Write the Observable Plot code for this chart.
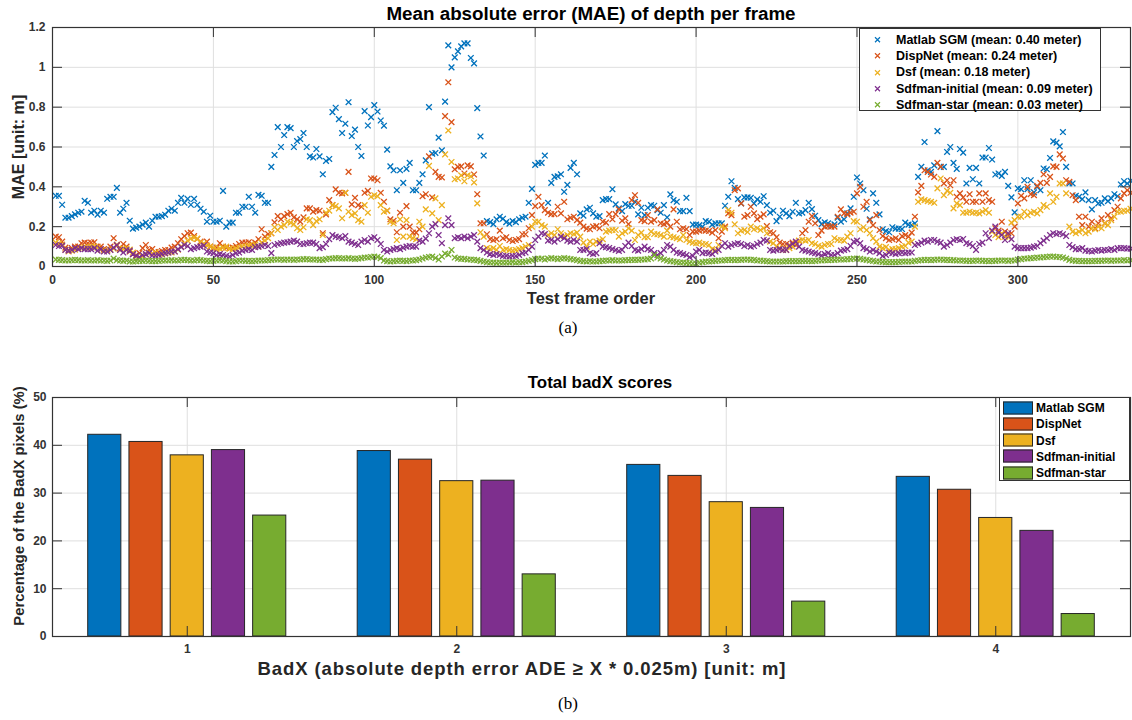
<!DOCTYPE html>
<html><head><meta charset="utf-8">
<script src="https://cdn.jsdelivr.net/npm/d3@7"></script>
<script src="https://cdn.jsdelivr.net/npm/@observablehq/plot@0.6"></script>
<style>
body{margin:0;background:#fff;}
#root{position:relative;width:1132px;height:720px;overflow:hidden;font-family:"Liberation Sans",Arial,sans-serif;}
#root svg.plot{position:absolute;left:0;}
.abs{position:absolute;white-space:nowrap;line-height:1;}
.title{font-weight:bold;font-size:16px;color:#000;transform:translate(-50%,-50%);}
.xlab{font-weight:bold;font-size:15px;color:#262626;transform:translate(-50%,-50%);}
.ylab{font-weight:bold;font-size:15px;color:#262626;transform:translate(-50%,-50%) rotate(-90deg);}
.cap{font-family:"Liberation Serif","DejaVu Serif",serif;font-size:17px;color:#000;transform:translate(-50%,-50%);}
.legend{position:absolute;background:#fff;border:1px solid #333;box-sizing:border-box;}
.lrow{position:absolute;left:0;white-space:nowrap;font-weight:bold;color:#000;line-height:1;transform:translateY(-50%);display:flex;align-items:center;}
</style>
</head><body><div id="root"></div>
<script>
// ---------- Data: MAE per frame (frames 1..335) ----------
const seriesNames = ["Matlab SGM","DispNet","Dsf","Sdfman-initial","Sdfman-star"];
const seriesMeans = ["0.40","0.24","0.18","0.09","0.03"];
const seriesColors = ["#0072BD","#D95319","#EDB120","#7E2F8E","#77AC30"];

const maeSGM = [
.355,.355,.31,.245,.245,.253,.262,.27,.275,.33,
.32,.27,.28,.26,.28,.27,.34,.35,.35,.395,
.27,.29,.32,.23,.19,.195,.2,.21,.22,.2,
.23,.25,.25,.253,.26,.28,.29,.28,.32,.345,
.32,.34,.31,.34,.31,.29,.275,.225,.255,.225,
.225,.23,.38,.2,.22,.22,.27,.27,.3,.3,
.35,.3,.27,.36,.355,.32,.32,.5,.56,.7,
.6,.66,.7,.695,.6,.63,.64,.67,.6,.553,
.547,.59,.553,.463,.53,.54,.775,.797,.74,.67,
.717,.825,.655,.687,.6,.555,.78,.708,.75,.81,
.778,.733,.707,.587,.503,.483,.383,.483,.42,.49,
.52,.383,.383,.42,.463,.533,.8,.567,.57,.647,
.583,.828,1.11,1.0,1.05,1.08,1.105,1.12,1.12,1.047,
1.02,.795,.653,.557,.228,.223,.213,.237,.25,.24,
.223,.215,.228,.223,.237,.245,.25,.32,.39,.51,
.52,.52,.557,.32,.42,.45,.453,.463,.375,.41,
.495,.52,.463,.267,.255,.287,.295,.267,.25,.253,
.333,.338,.338,.388,.312,.292,.278,.313,.305,.305,
.325,.262,.295,.258,.295,.308,.305,.283,.27,.308,
.247,.362,.333,.325,.278,.278,.345,.278,.21,.21,
.208,.2,.228,.225,.21,.217,.217,.217,.305,.35,
.428,.395,.338,.317,.347,.347,.345,.317,.337,.325,
.353,.308,.27,.28,.228,.25,.28,.267,.253,.275,
.32,.267,.27,.283,.32,.288,.255,.233,.213,.222,
.217,.205,.212,.245,.225,.237,.267,.292,.35,.447,
.417,.383,.29,.237,.367,.32,.262,.187,.178,.172,
.197,.19,.19,.188,.22,.21,.208,.217,.45,.5,
.625,.483,.475,.508,.68,.5,.5,.575,.6,.52,
.49,.59,.572,.417,.495,.438,.495,.417,.547,.547,
.595,.537,.462,.467,.455,.475,.405,.347,.272,.392,
.388,.433,.388,.433,.372,.4,.383,.492,.488,.545,
.628,.622,.603,.675,.5,.417,.417,.355,.35,.338,
.372,.333,.287,.333,.317,.32,.342,.328,.342,.363,
.353,.412,.428,.417,.43];

const maeDispNet = [
.15,.147,.125,.095,.083,.092,.1,.1,.117,.12,
.117,.12,.122,.1,.1,.087,.083,.1,.142,.105,
.092,.113,.1,.075,.062,.058,.067,.092,.108,.083,
.088,.072,.072,.078,.083,.083,.095,.1,.117,.137,
.153,.167,.17,.153,.138,.125,.113,.125,.1,.092,
.095,.117,.1,.095,.092,.095,.103,.113,.12,.12,
.122,.113,.12,.137,.187,.15,.163,.167,.222,.253,
.237,.253,.263,.27,.247,.237,.225,.247,.292,.292,
.275,.283,.28,.167,.262,.333,.308,.387,.37,.367,
.37,.475,.312,.345,.308,.3,.37,.38,.442,.442,
.433,.37,.325,.28,.237,.23,.172,.27,.2,.303,
.2,.17,.17,.187,.353,.363,.553,.347,.475,.45,
.447,.755,.925,.725,.488,.5,.503,.467,.508,.503,
.462,.363,.217,.217,.162,.137,.133,.137,.18,.142,
.147,.133,.128,.133,.137,.162,.162,.192,.258,.303,
.35,.308,.283,.27,.263,.263,.3,.267,.325,.237,
.245,.25,.233,.22,.2,.19,.187,.2,.203,.192,
.225,.22,.263,.237,.263,.287,.23,.242,.213,.333,
.358,.32,.233,.228,.258,.225,.233,.287,.217,.213,
.22,.2,.287,.225,.187,.192,.188,.158,.175,.175,
.18,.183,.18,.178,.17,.183,.142,.175,.2,.267,
.258,.383,.392,.317,.25,.258,.3,.267,.238,.25,
.262,.203,.172,.167,.147,.12,.113,.113,.108,.12,
.108,.128,.167,.183,.225,.253,.217,.158,.18,.2,
.203,.2,.2,.25,.287,.267,.262,.27,.275,.367,
.4,.3,.325,.233,.208,.258,.183,.153,.142,.133,
.137,.142,.133,.153,.158,.15,.17,.25,.372,.405,
.483,.475,.462,.45,.52,.5,.417,.433,.408,.433,
.35,.367,.347,.325,.363,.325,.325,.367,.325,.367,
.333,.325,.192,.18,.225,.175,.158,.167,.2,.317,
.355,.342,.4,.363,.358,.405,.42,.463,.42,.45,
.503,.5,.563,.542,.433,.425,.358,.333,.25,.208,
.25,.2,.225,.192,.217,.242,.217,.258,.242,.283,
.3,.342,.367,.383,.37];

const maeDsf = [
.12,.115,.11,.085,.075,.08,.085,.09,.095,.095,
.095,.1,.1,.095,.085,.08,.08,.085,.09,.11,
.085,.09,.09,.085,.07,.05,.045,.05,.06,.07,
.065,.07,.06,.06,.065,.07,.07,.075,.085,.1,
.115,.13,.14,.145,.14,.12,.115,.105,.1,.095,
.085,.09,.095,.1,.09,.085,.09,.095,.1,.1,
.105,.105,.11,.1,.12,.13,.142,.167,.197,.183,
.2,.208,.225,.22,.213,.192,.183,.197,.237,.233,
.208,.228,.237,.158,.27,.28,.308,.303,.292,.242,
.37,.275,.258,.267,.233,.225,.308,.27,.35,.358,
.353,.308,.275,.28,.225,.217,.133,.237,.15,.233,
.15,.142,.137,.225,.2,.287,.505,.267,.342,.233,
.308,.563,.683,.525,.438,.442,.458,.428,.458,.453,
.422,.317,.172,.15,.092,.087,.092,.083,.103,.083,
.087,.083,.08,.083,.087,.092,.1,.108,.2,.225,
.225,.208,.2,.158,.167,.158,.187,.167,.153,.158,
.167,.163,.17,.15,.12,.1,.125,.113,.125,.13,
.137,.175,.18,.183,.183,.15,.167,.175,.192,.18,
.133,.158,.17,.147,.147,.175,.163,.162,.158,.15,
.18,.15,.147,.142,.137,.158,.133,.125,.12,.117,
.12,.113,.113,.108,.087,.083,.108,.2,.192,.283,
.27,.212,.167,.18,.183,.173,.2,.187,.192,.183,
.192,.167,.125,.117,.1,.092,.083,.083,.092,.1,
.117,.13,.133,.13,.133,.117,.113,.103,.1,.108,
.113,.113,.142,.133,.133,.13,.15,.167,.228,.225,
.187,.197,.183,.167,.142,.125,.1,.092,.097,.083,
.087,.087,.092,.1,.103,.12,.125,.2,.325,.337,
.333,.328,.325,.32,.392,.442,.358,.38,.37,.292,
.317,.308,.27,.27,.275,.27,.27,.267,.275,.283,
.27,.175,.158,.147,.167,.15,.147,.22,.233,.25,
.25,.275,.258,.27,.275,.267,.283,.308,.3,.367,
.325,.35,.417,.417,.367,.2,.175,.167,.175,.183,
.167,.175,.192,.187,.2,.192,.217,.208,.233,.25,
.275,.275,.28,.28,.29];

const maeInitial = [
.108,.103,.105,.083,.08,.083,.092,.087,.092,.087,
.087,.087,.092,.08,.087,.075,.075,.083,.095,.108,
.083,.07,.083,.08,.062,.053,.047,.058,.062,.067,
.055,.055,.058,.063,.067,.07,.075,.075,.087,.097,
.108,.103,.087,.092,.097,.1,.105,.075,.07,.067,
.058,.062,.058,.053,.05,.058,.067,.07,.08,.083,
.087,.083,.097,.1,.103,.108,.103,.067,.108,.113,
.117,.12,.122,.125,.13,.125,.113,.113,.117,.12,
.12,.113,.092,.097,.113,.137,.158,.15,.147,.142,
.153,.125,.12,.113,.108,.125,.133,.125,.142,.147,
.133,.113,.083,.075,.083,.087,.092,.087,.095,.1,
.103,.1,.1,.13,.125,.14,.167,.2,.213,.158,
.117,.208,.242,.208,.142,.147,.142,.15,.142,.15,
.158,.125,.092,.083,.07,.062,.058,.063,.058,.053,
.053,.05,.053,.053,.058,.067,.07,.083,.1,.133,
.15,.167,.163,.13,.133,.125,.137,.15,.142,.13,
.125,.133,.125,.083,.083,.087,.067,.063,.067,.117,
.1,.097,.093,.087,.083,.078,.083,.103,.12,.103,
.083,.08,.087,.1,.087,.083,.067,.058,.067,.083,
.108,.1,.083,.07,.067,.062,.058,.047,.053,.075,
.083,.067,.07,.067,.063,.075,.083,.103,.117,.1,
.108,.113,.117,.113,.103,.108,.1,.103,.113,.12,
.133,.13,.083,.08,.083,.087,.083,.083,.103,.113,
.125,.1,.083,.08,.075,.07,.067,.063,.055,.062,
.067,.058,.058,.067,.08,.083,.087,.103,.125,.13,
.117,.092,.087,.075,.083,.075,.067,.053,.058,.07,
.067,.063,.067,.07,.067,.07,.07,.108,.113,.12,
.13,.125,.133,.133,.125,.12,.1,.108,.12,.133,
.137,.133,.138,.117,.113,.103,.083,.113,.12,.167,
.142,.18,.2,.17,.158,.133,.167,.137,.1,.092,
.092,.092,.092,.095,.1,.103,.117,.13,.142,.158,
.167,.163,.167,.162,.153,.108,.097,.087,.087,.092,
.08,.078,.075,.08,.083,.08,.083,.083,.087,.083,
.092,.092,.092,.09,.09];

const maeStar = [
.035,.033,.032,.03,.03,.032,.033,.032,.03,.03,
.032,.03,.03,.032,.03,.03,.028,.03,.04,.032,
.03,.028,.03,.025,.025,.027,.028,.028,.03,.028,
.027,.027,.028,.03,.03,.03,.032,.03,.03,.033,
.033,.032,.03,.03,.033,.032,.03,.028,.027,.028,
.03,.032,.03,.027,.025,.025,.027,.03,.03,.028,
.028,.027,.028,.03,.03,.03,.032,.033,.035,.035,
.035,.033,.035,.035,.033,.035,.035,.037,.037,.035,
.035,.035,.033,.033,.037,.04,.04,.042,.042,.04,
.04,.042,.04,.038,.04,.042,.045,.045,.048,.05,
.048,.042,.03,.027,.025,.027,.028,.03,.028,.027,
.03,.03,.032,.035,.04,.045,.048,.05,.043,.035,
.05,.065,.06,.083,.045,.04,.038,.038,.035,.035,
.033,.032,.028,.025,.022,.02,.02,.018,.02,.02,
.02,.02,.022,.02,.022,.022,.025,.028,.032,.037,
.04,.04,.035,.04,.042,.04,.037,.04,.042,.04,
.037,.035,.032,.028,.027,.025,.027,.025,.025,.027,
.028,.03,.03,.032,.03,.03,.03,.032,.032,.033,
.033,.033,.035,.035,.037,.04,.058,.045,.04,.035,
.03,.027,.025,.022,.02,.02,.018,.017,.015,.015,
.02,.022,.025,.025,.027,.028,.03,.03,.032,.033,
.033,.032,.033,.033,.035,.035,.033,.033,.03,.03,
.028,.027,.025,.025,.025,.025,.025,.027,.027,.027,
.027,.027,.028,.028,.028,.027,.028,.03,.03,.032,
.032,.033,.033,.035,.035,.035,.037,.037,.04,.04,
.038,.035,.033,.03,.028,.025,.025,.023,.022,.022,
.022,.022,.023,.025,.025,.025,.025,.028,.03,.032,
.033,.033,.032,.033,.035,.035,.033,.033,.032,.032,
.03,.03,.03,.028,.028,.028,.03,.03,.028,.028,
.027,.028,.028,.03,.03,.03,.028,.03,.03,.035,
.037,.04,.04,.042,.043,.045,.045,.047,.048,.05,
.05,.048,.048,.045,.04,.033,.03,.028,.028,.027,
.027,.027,.027,.028,.028,.028,.03,.03,.028,.03,
.03,.03,.032,.03,.032];

const maeXTicks = [0,50,100,150,200,250,300];
const maeYTicks = [0,0.2,0.4,0.6,0.8,1,1.2];

// ---------- Data: badX scores (%) ----------
const badXGroups = [1,2,3,4];
const badSGM     = [42.2, 38.8, 35.9, 33.4];
const badDispNet = [40.7, 37.0, 33.6, 30.7];
const badDsf     = [37.9, 32.5, 28.1, 24.8];
const badInitial = [39.0, 32.6, 26.9, 22.1];
const badStar    = [25.3, 13.0, 7.3, 4.7];
const badYTicks = [0,10,20,30,40,50];

// ---------- Layout ----------
const root = document.getElementById("root");
const W = 1132, mL = 52, mR = 2, mT = 27, mB = 44, H = 310;
const plotW = W - mL - mR, plotH = H - mT - mB;
const GRID = "#dfdfdf", AX = "#333";
const baseStyle = {fontFamily: '"Liberation Sans", Arial, sans-serif', fontSize: "12px", fontWeight: "bold", color: "#333", background: "transparent", overflow: "visible"};

// ---------- Top chart ----------
const xDom = [0, 335], yDom = [0, 1.2];
const tkx = (xDom[1]-xDom[0]) * 10 / plotW, tky = (yDom[1]-yDom[0]) * 10 / plotH;
const allMAE = [maeSGM, maeDispNet, maeDsf, maeInitial, maeStar];
const topChart = Plot.plot({
  width: W, height: H, marginLeft: mL, marginRight: mR, marginTop: mT, marginBottom: mB,
  style: baseStyle,
  x: {domain: xDom, ticks: maeXTicks, tickSize: 0, tickPadding: 9, label: null},
  y: {domain: yDom, ticks: maeYTicks, tickSize: 0, tickPadding: 7, label: null, tickFormat: d => String(d)},
  marks: [
    Plot.ruleX(maeXTicks, {stroke: GRID}),
    Plot.ruleY(maeYTicks, {stroke: GRID}),
    ...allMAE.map((s, k) => Plot.dot(s, {x: (d, i) => i + 1, y: d => d, symbol: "times", r: 2.7, stroke: seriesColors[k], strokeWidth: 1.3})),
    Plot.ruleX(maeXTicks, {y1: yDom[0], y2: yDom[0] + tky, stroke: AX}),
    Plot.ruleX(maeXTicks, {y1: yDom[1] - tky, y2: yDom[1], stroke: AX}),
    Plot.ruleY(maeYTicks, {x1: xDom[0], x2: xDom[0] + tkx, stroke: AX}),
    Plot.ruleY(maeYTicks, {x1: xDom[1] - tkx, x2: xDom[1], stroke: AX}),
    Plot.frame({stroke: AX, strokeWidth: 1.2})
  ]
});
topChart.classList.add("plot");
topChart.style.top = "0px";
root.appendChild(topChart);

// ---------- Bottom chart ----------
const bxDom = [0.5, 4.5], byDom = [0, 50];
const btkx = (bxDom[1]-bxDom[0]) * 10 / plotW, btky = (byDom[1]-byDom[0]) * 10 / plotH;
const badAll = [badSGM, badDispNet, badDsf, badInitial, badStar];
const barRows = [];
badAll.forEach((arr, k) => arr.forEach((v, g) => barRows.push({group: badXGroups[g], k, method: seriesNames[k], value: v})));
const step = 0.153, half = 0.0615;
const bottomChart = Plot.plot({
  width: W, height: H, marginLeft: mL, marginRight: mR, marginTop: mT, marginBottom: mB,
  style: baseStyle,
  x: {domain: bxDom, ticks: badXGroups, tickSize: 0, tickPadding: 8, label: null, tickFormat: d => String(d)},
  y: {domain: byDom, ticks: badYTicks, tickSize: 0, tickPadding: 6, label: null},
  color: {domain: seriesNames, range: seriesColors},
  marks: [
    Plot.ruleX(badXGroups, {stroke: GRID}),
    Plot.ruleY(badYTicks, {stroke: GRID}),
    Plot.rectY(barRows, {x1: d => d.group + (d.k - 2) * step - half, x2: d => d.group + (d.k - 2) * step + half, y1: 0, y2: "value", fill: "method", stroke: "#262626", strokeWidth: 1}),
    Plot.ruleX(badXGroups, {y1: byDom[0], y2: byDom[0] + btky, stroke: AX}),
    Plot.ruleX(badXGroups, {y1: byDom[1] - btky, y2: byDom[1], stroke: AX}),
    Plot.ruleY(badYTicks, {x1: bxDom[0], x2: bxDom[0] + btkx, stroke: AX}),
    Plot.ruleY(badYTicks, {x1: bxDom[1] - btkx, x2: bxDom[1], stroke: AX}),
    Plot.frame({stroke: AX, strokeWidth: 1.2})
  ]
});
bottomChart.classList.add("plot");
bottomChart.style.top = "370px";
root.appendChild(bottomChart);

// ---------- Text overlays ----------
function addText(cls, txt, x, y, targetW) {
  const d = document.createElement("div");
  d.className = "abs " + cls;
  d.textContent = txt;
  d.style.left = x + "px"; d.style.top = y + "px";
  root.appendChild(d);
  if (targetW) {
    const fs = parseFloat(getComputedStyle(d).fontSize);
    d.style.fontSize = (fs * targetW / d.offsetWidth).toFixed(2) + "px";
  }
  return d;
}
addText("title", "Mean absolute error (MAE) of depth per frame", 591, 14, 410);
addText("ylab", "MAE [unit: m]", 18, 147, 104);
addText("xlab", "Test frame order", 591, 298, 128);
addText("cap", "(a)", 568, 327);
addText("title", "Total badX scores", 600, 383, 145);
addText("ylab", "Percentage of the BadX pixels (%)", 19, 506, 240);
const bxl = addText("xlab", "BadX (absolute depth error ADE \u2265 X * 0.025m) [unit: m]", 522, 669);
bxl.style.fontSize = "18.5px";
bxl.style.letterSpacing = "0.9px";
addText("cap", "(b)", 568, 703);

// ---------- Legends ----------
const lg1 = document.createElement("div");
lg1.className = "legend";
Object.assign(lg1.style, {left: "859px", top: "28px", width: "242px", height: "83px"});
seriesNames.forEach((n, k) => {
  const r = document.createElement("div");
  r.className = "lrow";
  r.style.top = (11 + k * 16.2) + "px";
  r.style.fontSize = "12.5px";
  r.innerHTML = `<svg width="36" height="8"><path d="M15,1.5L20,6.5M15,6.5L20,1.5" stroke="${seriesColors[k]}" stroke-width="1.2"/></svg><span>${n} (mean: ${seriesMeans[k]} meter)</span>`;
  lg1.appendChild(r);
});
root.appendChild(lg1);

const lg2 = document.createElement("div");
lg2.className = "legend";
Object.assign(lg2.style, {left: "999px", top: "397px", width: "131px", height: "84px"});
seriesNames.forEach((n, k) => {
  const r = document.createElement("div");
  r.className = "lrow";
  r.style.top = (9.5 + k * 16.3) + "px";
  r.style.fontSize = "12px";
  r.innerHTML = `<span style="display:inline-block;width:28px;height:11px;margin-left:3px;margin-right:3px;background:${seriesColors[k]};border:1px solid #262626;"></span><span>${n}</span>`;
  lg2.appendChild(r);
});
root.appendChild(lg2);
</script>
</body></html>
